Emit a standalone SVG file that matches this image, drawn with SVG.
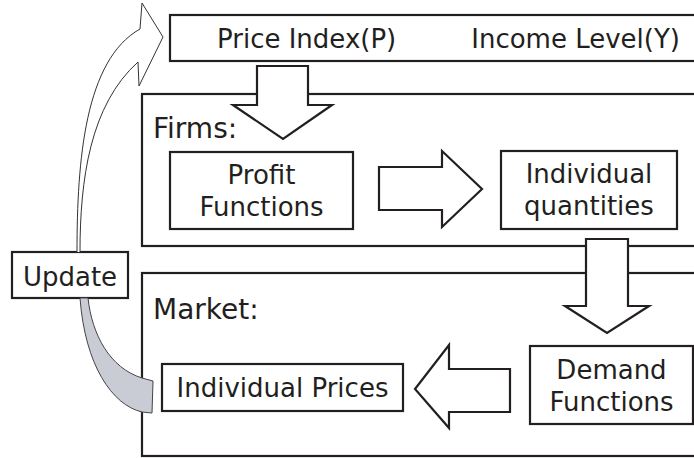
<svg xmlns="http://www.w3.org/2000/svg" width="694" height="458" viewBox="0 0 694 458">
<style>
.box{fill:#fff;stroke:#231f20;stroke-width:2.2}
.arr{fill:#fff;stroke:#231f20;stroke-width:2.2;stroke-linejoin:miter}
.t{font-family:"DejaVu Sans",Verdana,sans-serif;font-size:26px;fill:#231f20}
.h{font-family:"DejaVu Sans",Verdana,sans-serif;font-size:28px;fill:#231f20}
.c{text-anchor:middle}
</style>
<rect width="694" height="458" fill="#fff"/>
<g id="top">
<rect class="box" x="170" y="15" width="540" height="46"/>
<text class="t" x="217" y="48">Price Index(P)</text>
<text class="t" x="680" y="48" text-anchor="end">Income Level(Y)</text>
</g>
<g id="firms">
<rect class="box" x="142" y="94" width="570" height="152"/>
<text class="h" x="153" y="138">Firms:</text>
</g>
<g id="market">
<rect class="box" x="142" y="273" width="570" height="183"/>
<text class="h" x="153" y="319">Market:</text>
</g>
<g id="profit">
<rect class="box" x="170" y="152" width="183" height="77"/>
<text class="t c" x="261.5" y="184">Profit</text>
<text class="t c" x="261.5" y="216">Functions</text>
</g>
<g id="quantities">
<rect class="box" x="501" y="151" width="176" height="78"/>
<text class="t c" x="589" y="183">Individual</text>
<text class="t c" x="589" y="215">quantities</text>
</g>
<g id="demand">
<rect class="box" x="530" y="346" width="163" height="78"/>
<text class="t c" x="611.5" y="379">Demand</text>
<text class="t c" x="611.5" y="411">Functions</text>
</g>
<g id="prices">
<rect class="box" x="162" y="364" width="241" height="47"/>
<text class="t c" x="282.5" y="397">Individual Prices</text>
</g>
<g id="update">
<rect class="box" x="12" y="252" width="116" height="46"/>
<text class="t c" x="70" y="286">Update</text>
</g>
<g id="connectors">
<path class="arr" d="M257,66 H308 V105 H332 L283,139 L233,105 H257 Z"/>
<path class="arr" d="M379,167 H442 V151 L482,189 L442,227 V210 H379 Z"/>
<path class="arr" d="M586,239 H628 V306 H649 L607,333 L565,306 H586 Z"/>
<path class="arr" d="M510,369 H449 V345 L415,389 L449,428 V412 H510 Z"/>
<path d="M77,252 C77,160 85,60 140,29 L142,3 L163,37 L139,86 L138,62 C90,105 80,180 80,252" fill="#fff" stroke="#333" stroke-width="1"/>
<path d="M80,298 C85,365 112,405 142,412 L152,413 L153,381 L142,378 C110,368 92,335 88,298 Z" fill="#c9ccd4" stroke="#444" stroke-width="1"/>
</g>
</svg>
